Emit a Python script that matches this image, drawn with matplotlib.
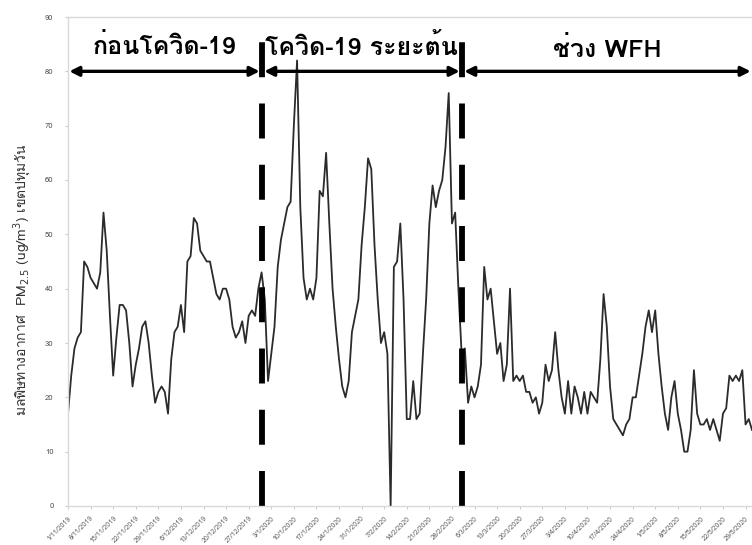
import matplotlib
matplotlib.use("Agg")
import matplotlib.pyplot as plt
from matplotlib import font_manager, ft2font
import pandas as pd
import numpy as np

# Daily PM2.5 readings, Pathumwan district, 1 Nov 2019 - 31 May 2020
start_date = "2019-11-01"
pm25 = [
    17, 24, 29, 31, 32, 45, 44, 42, 41, 40,
    43, 54, 47, 35, 24, 31, 37, 37, 36, 30,
    22, 26, 29, 33, 34, 30, 24, 19, 21, 22,
    21, 17, 27, 32, 33, 37, 32, 45, 46, 53,
    52, 47, 46, 45, 45, 42, 39, 38, 40, 40,
    38, 33, 31, 32, 34, 30, 35, 36, 35, 40,
    43, 38, 23, 28, 33, 44, 49, 52, 55, 56,
    70, 82, 55, 42, 38, 40, 38, 42, 58, 57,
    65, 52, 40, 33, 27, 22, 20, 23, 32, 35,
    38, 48, 55, 64, 62, 48, 38, 30, 32, 28,
    0, 44, 45, 52, 38, 16, 16, 23, 16, 17,
    28, 38, 52, 59, 55, 58, 60, 66, 76, 52,
    54, 40, 28, 29, 19, 22, 20, 22, 26, 44,
    38, 40, 34, 28, 30, 23, 26, 40, 23, 24,
    23, 24, 21, 21, 19, 20, 17, 19, 26, 23,
    25, 32, 25, 20, 17, 23, 17, 22, 20, 17,
    21, 17, 21, 20, 19, 27, 39, 33, 22, 16,
    15, 14, 13, 15, 16, 20, 20, 24, 28, 33,
    36, 32, 36, 28, 22, 17, 14, 20, 23, 17,
    14, 10, 10, 14, 25, 17, 15, 15, 16, 14,
    16, 14, 12, 17, 18, 24, 23, 24, 23, 25,
    15, 16, 14,
]

# Period boundaries (dashed lines) and period labels
phase_breaks = ["2019-12-31", "2020-03-02"]
phase_labels = ["ก่อนโควิด-19", "โควิด-19 ระยะต้น", "ช่วง WFH"]
y_ticks = list(range(0, 100, 10))
y_label = "มลพิษทางอากาศ  PM$_{2.5}$ (ug/m$^3$) เขตปทุมวัน"


def find_thai_family():
    found = []
    for f in font_manager.fontManager.ttflist:
        try:
            cmap = ft2font.FT2Font(f.fname).get_charmap()
        except Exception:
            continue
        if 0x0E01 in cmap:
            found.append(f.name)
    return found[0] if found else None


thai = find_thai_family()
families = ([thai] if thai else []) + ["DejaVu Sans"]
plt.rcParams["font.family"] = families

dates = pd.date_range(start_date, periods=len(pm25), freq="D")
day0 = dates[0]
xs = np.array([(d - day0).days for d in dates])

tick_dates = pd.date_range(start_date, dates[-1], freq="7D")
tick_pos = [(d - day0).days for d in tick_dates]
tick_text = [f"{d.day}/{d.month}/{d.year}" for d in tick_dates]
break_pos = [(pd.Timestamp(b) - day0).days for b in phase_breaks]

fig = plt.figure(figsize=(7.52, 5.45), dpi=100)
ax = fig.add_axes([68 / 752, 39 / 545, 684 / 752, 489 / 545])

ax.plot(xs, pm25, color="#2b2b2b", lw=1.3)

ax.set_xlim(0, 212)
ax.set_ylim(0, 90)
ax.set_yticks(y_ticks)
ax.set_yticklabels([str(v) for v in y_ticks], fontsize=5.5, color="#555555")
ax.set_xticks(tick_pos)
ax.set_xticklabels(tick_text, rotation=45, ha="right", rotation_mode="anchor",
                   fontsize=5.0, color="#666666")
ax.tick_params(axis="both", length=2.5, color="#cccccc", pad=8)
ax.tick_params(axis="x", pad=4)
for side in ["left", "bottom", "top"]:
    ax.spines[side].set_color("#d9d9d9")
    ax.spines[side].set_linewidth(1.0)
ax.spines["right"].set_visible(False)

# Dashed period separators
for b in break_pos:
    ax.plot([b, b], [0, 89.5], color="black", lw=4.2,
            linestyle=(0, (6, 4.5)), solid_capstyle="butt", dash_capstyle="butt")

# Double-headed arrows spanning each period
spans = [(0.4, break_pos[0] - 0.6), (break_pos[0] + 0.8, break_pos[1] - 0.6),
         (break_pos[1] + 0.8, 211.6)]
for (a, b), label in zip(spans, phase_labels):
    ax.annotate("", xy=(a, 80), xytext=(b, 80),
                arrowprops=dict(arrowstyle="<|-|>", color="black", lw=2.4,
                                mutation_scale=14, shrinkA=0, shrinkB=0))

ax.text((spans[0][0] + spans[0][1]) / 2, 84.5, phase_labels[0], ha="center",
        va="center", fontsize=18, fontweight="bold")
ax.text((spans[1][0] + spans[1][1]) / 2, 84.5, phase_labels[1], ha="center",
        va="center", fontsize=18, fontweight="bold")
ax.text((spans[2][0] + spans[2][1]) / 2, 84.0, phase_labels[2], ha="center",
        va="center", fontsize=18, fontweight="bold")

fig.text(22 / 752, 1 - 280 / 545, y_label, rotation=90, ha="center", va="center",
         fontsize=10, color="#333333")

fig.savefig("out.png", dpi=100)
